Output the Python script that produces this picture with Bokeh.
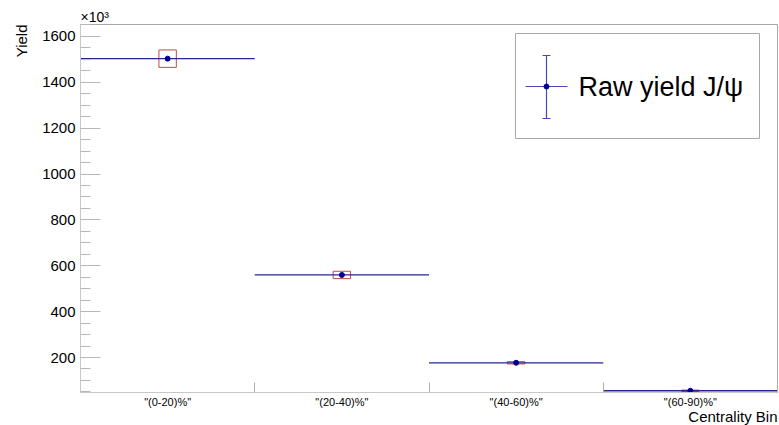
from bokeh.plotting import figure
from bokeh.models import (Range1d, SingleIntervalTicker, FixedTicker, Label,
                          ColumnDataSource, Title)
from bokeh.embed import file_html
from bokeh.resources import INLINE

# ---- data ----
centrality = ['"(0-20)%"', '"(20-40)%"', '"(40-60)%"', '"(60-90)%"']
raw_yield = [1503e3, 560e3, 177e3, 55e3]      # raw J/psi yield
syst_err = [38e3, 16e3, 5e3, 3e3]             # box half-height
scale = 1e3                                    # axis shown in units of 10^3

W, H = 779, 425
FL, FR, FT, FB = 80, 777, 24, 392              # frame in pixels
X0, X1 = 0.0, float(len(centrality))
Y0, Y1 = 47.4, 1652.0

def dx(px):
    return X0 + (px - FL) * (X1 - X0) / (FR - FL)

def dy(py):
    return Y1 - (py - FT) * (Y1 - Y0) / (FB - FT)

FONT = "Liberation Sans"

p = figure(width=W, height=H, output_backend="svg", toolbar_location=None,
           x_range=Range1d(X0, X1), y_range=Range1d(Y0, Y1),
           min_border_left=FL, min_border_right=W - FR,
           min_border_top=FT, min_border_bottom=H - FB)
p.background_fill_color = "white"
p.border_fill_color = "white"
p.outline_line_color = "#a8a8a8"
p.xgrid.visible = False
p.ygrid.visible = False

# y axis
ya = p.yaxis[0]
ya.ticker = SingleIntervalTicker(interval=200, num_minor_ticks=4)
ya.axis_line_color = "#c8c8c8"
ya.major_tick_line_color = "#b8b8b8"
ya.minor_tick_line_color = "#b8b8b8"
ya.major_tick_in = 20
ya.major_tick_out = 0
ya.minor_tick_in = 10
ya.minor_tick_out = 0
ya.major_label_standoff = 5
ya.major_label_text_font = FONT
ya.major_label_text_font_size = "15px"
ya.major_label_text_color = "black"

# x axis: labels at bin centres, ticks at bin edges
n = len(centrality)
centers = [i + 0.5 for i in range(n)]
edges = [float(i) for i in range(n + 1)]
xa = p.xaxis[0]
xa.ticker = FixedTicker(ticks=centers, minor_ticks=edges)
xa.major_label_overrides = {c: lab for c, lab in zip(centers, centrality)}
xa.axis_line_color = "#c8c8c8"
xa.major_tick_in = 0
xa.major_tick_out = 0
xa.minor_tick_in = 10
xa.minor_tick_out = 0
xa.minor_tick_line_color = "#b0b0b0"
xa.major_label_standoff = 3
xa.axis_label_standoff = 0
xa.major_label_text_font = FONT
xa.major_label_text_font_size = "11px"
xa.major_label_text_color = "black"

# axis titles as Title panels (outside the frame)
def title(text, align, size="15px", standoff=0, valign="bottom"):
    t = Title(text=text, align=align, text_font=FONT, text_font_size=size,
              text_font_style="normal", text_color="black", offset=0,
              vertical_align=valign)
    try:
        t.standoff = standoff
    except Exception:
        t.standoff = 0
    return t

p.add_layout(title("×10³", "left", size="14px"), "above")
p.add_layout(title("Yield", "right", size="15px", standoff=20), "left")
p.add_layout(title("Centrality Bin", "right", size="15px", standoff=-5,
                   valign="top"), "below")

# legend box (drawn first so the entry sits on top)
p.quad(left=[dx(515)], right=[dx(759)], top=[dy(33)], bottom=[dy(138)],
       fill_color="white", line_color="#a8a8a8", line_width=1)

# histogram
ys = [v / scale for v in raw_yield]
es = [e / scale for e in syst_err]
src = ColumnDataSource(dict(
    x0=[c - 0.5 for c in centers], x1=[c + 0.5 for c in centers],
    xc=centers, y=ys,
    bl=[c - 0.05 for c in centers], br=[c + 0.05 for c in centers],
    bb=[y - e for y, e in zip(ys, es)], bt=[y + e for y, e in zip(ys, es)],
))
p.quad(left="bl", right="br", bottom="bb", top="bt", source=src,
       fill_color=None, line_color="#c04a4a", line_width=1)
p.segment(x0="x0", y0="y", x1="x1", y1="y", source=src,
          line_color="#26268e", line_width=1.3)
p.scatter(x="xc", y="y", source=src, size=5, color="#00008b")

# legend entry
lx, ly = dx(546), dy(86)
lc = "#4a4ab4"
p.segment(x0=[dx(525), lx, dx(542), dx(542)], y0=[ly, dy(55), dy(55), dy(118)],
          x1=[dx(567), lx, dx(550), dx(550)], y1=[ly, dy(118), dy(55), dy(118)],
          line_color=lc, line_width=1.2)
p.scatter(x=[lx], y=[ly], size=5, color="#00008b")
p.add_layout(Label(x=dx(578), y=ly, text="Raw yield J/ψ",
                   text_align="left", text_baseline="middle",
                   text_font=FONT, text_font_size="27px", text_color="black"))

open("out.html", "w").write(file_html(p, INLINE))
